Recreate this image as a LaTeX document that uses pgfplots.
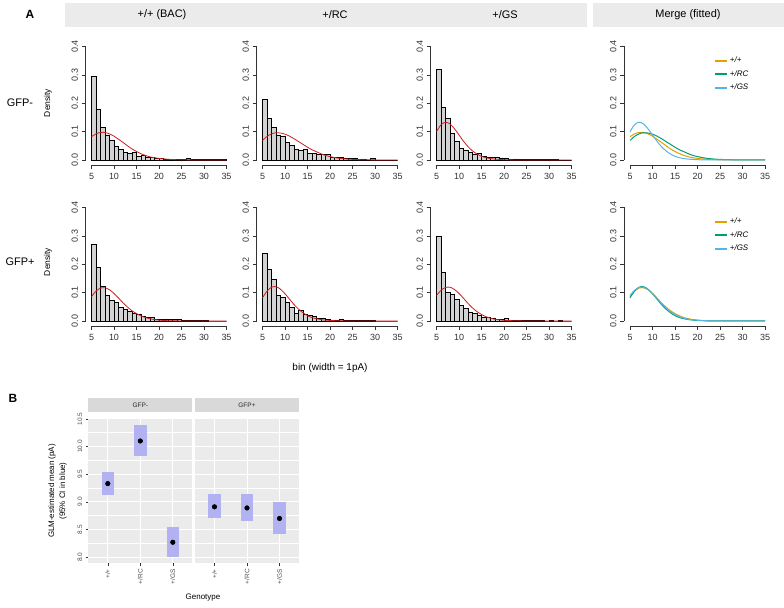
\documentclass[border=0pt]{standalone}
\usepackage{pgfplots}
\pgfplotsset{compat=1.18}
\usepackage{pgfplotstable}
\usepackage{fontspec}
\setmainfont{Liberation Sans}
\setsansfont{Liberation Sans}

\definecolor{histfill}{RGB}{211,211,211}
\definecolor{fitred}{RGB}{205,30,30}
\definecolor{cwt}{RGB}{230,159,0}
\definecolor{crc}{RGB}{0,158,115}
\definecolor{cgs}{RGB}{86,180,233}
\definecolor{stripA}{RGB}{235,235,235}
\definecolor{stripB}{RGB}{217,217,217}
\definecolor{panelB}{RGB}{235,235,235}
\definecolor{ciblue}{RGB}{178,178,242}

% histogram densities, bins [x, x+1)
\pgfplotstableread{
x  h1    h2    h3    h4    h5    h6
5  0.295 0.214 0.320 0.271 0.237 0.299
6  0.178 0.145 0.186 0.188 0.181 0.172
7  0.115 0.115 0.147 0.121 0.145 0.102
8  0.087 0.088 0.094 0.091 0.092 0.093
9  0.068 0.082 0.067 0.073 0.084 0.075
10 0.049 0.062 0.041 0.065 0.065 0.055
11 0.036 0.052 0.034 0.049 0.048 0.044
12 0.026 0.038 0.027 0.041 0.028 0.032
13 0.023 0.034 0.019 0.033 0.036 0.026
14 0.026 0.038 0.022 0.027 0.024 0.020
15 0.014 0.024 0.012 0.022 0.020 0.014
16 0.015 0.022 0.009 0.018 0.016 0.012
17 0.011 0.020 0.009 0.013 0.010 0.008
18 0.008 0.021 0.008 0.012 0.008 0.006
19 0.007 0.019 0.007 0.007 0.006 0.006
20 0.005 0.009 0.005 0.006 0.004 0.009
21 0.004 0.009 0.004 0.005 0.004 0.004
22 0.004 0.008 0.004 0.006 0.005 0.002
23 0.003 0.007 0.003 0.007 0.003 0.002
24 0.003 0.005 0.003 0.007 0.002 0.001
25 0.003 0.005 0.003 0.003 0.002 0.002
26 0.005 0.004 0.002 0.002 0.001 0.001
27 0.003 0.004 0.002 0.002 0.001 0.001
28 0.002 0.000 0.002 0.001 0.001 0.001
29 0.001 0.006 0.001 0.001 0.001 0.000
30 0.002 0.000 0.001 0.001 0.000 0.001
31 0.001 0.000 0.001 0.000 0.000 0.000
32 0.001 0.000 0.000 0.000 0.000 0.001
33 0.002 0.000 0.000 0.000 0.000 0.000
34 0.001 0.000 0.000 0.000 0.000 0.000
35 0.001 0.000 0.000 0.000 0.000 0.000
}\hist

% fitted densities
\pgfplotstableread{
x  c1     c2     c3     c4     c5     c6
5  0.082  0.069  0.100  0.086  0.082  0.090
6  0.092  0.083  0.124  0.105  0.105  0.108
7  0.097  0.092  0.133  0.116  0.119  0.118
8  0.097  0.096  0.127  0.117  0.121  0.119
9  0.092  0.095  0.110  0.110  0.112  0.111
10 0.084  0.091  0.088  0.097  0.096  0.097
11 0.073  0.084  0.066  0.081  0.077  0.080
12 0.062  0.075  0.047  0.064  0.058  0.062
13 0.050  0.065  0.032  0.049  0.042  0.046
14 0.039  0.055  0.021  0.036  0.029  0.033
15 0.030  0.045  0.013  0.026  0.019  0.023
16 0.022  0.036  0.008  0.018  0.012  0.015
17 0.016  0.029  0.005  0.012  0.008  0.010
18 0.011  0.022  0.003  0.008  0.005  0.006
19 0.008  0.016  0.002  0.005  0.003  0.004
20 0.0055 0.012  0.001  0.003  0.002  0.0025
22 0.0025 0.006  0.0003 0.001  0.0006 0.001
24 0.001  0.003  0.0001 0.0004 0.0002 0.0003
26 0.0005 0.0015 0.0    0.0001 0.0001 0.0001
28 0.0002 0.0007 0.0    0.0    0.0    0.0
30 0.0001 0.0003 0.0    0.0    0.0    0.0
32 0.0    0.0001 0.0    0.0    0.0    0.0
35 0.0    0.0    0.0    0.0    0.0    0.0
}\fits

% GLM estimates with 95% CI
\pgfplotstableread{
x mean lo hi
1 9.33 9.12 9.54
2 10.10 9.83 10.39
3 8.27 8.01 8.55
}\gfpminus
\pgfplotstableread{
x mean lo hi
1 8.91 8.70 9.14
2 8.89 8.66 9.15
3 8.70 8.42 8.99
}\gfpplus

\pgfplotsset{
  rbase/.style={
    scale only axis, width=135bp, height=113.5bp,
    xmin=5, xmax=35, ymin=0, ymax=0.4,
    axis lines=left, axis line style={-, line width=0.6bp, black!80},
    axis x line shift=5bp, axis y line shift=6bp,
    xtick={5,10,15,20,25,30,35}, ytick={0,0.1,0.2,0.3,0.4},
    tick align=outside, major tick length=4bp,
    tick style={black!80, line width=0.6bp},
    /pgf/number format/assume math mode=true,
    ticklabel style={font=\fontsize{9}{10}\selectfont, text=black!80},
    xticklabel style={yshift=-1bp},
    yticklabel style={rotate=90, anchor=south, /pgf/number format/.cd, fixed, fixed zerofill, precision=1},
    clip=false,
  },
  hbar/.style={ybar interval, fill=histfill, draw=black, line width=0.7bp},
  fit/.style={fitred, line width=0.8bp, smooth},
  merge/.style={
    rbase,
    legend style={draw=none, fill=none, at={(0.62,0.925)}, anchor=north west,
      font=\fontsize{8}{9}\selectfont\itshape, row sep=2.2bp, inner sep=0pt},
    legend cell align=left,
    legend image post style={line width=2bp},
    legend image code/.code={\draw plot coordinates {(0bp,0bp) (6bp,0bp) (12bp,0bp)};},
  },
  gpanel/.style={
    scale only axis, width=104bp, height=145bp,
    xmin=0.4, xmax=3.6, ymin=7.89, ymax=10.51,
    axis background/.style={fill=panelB},
    axis line style={draw=none},
    xtick={1,2,3}, xticklabels={+/+,+/RC,+/GS},
    ytick={8,8.5,9,9.5,10,10.5}, minor ytick={8.25,8.75,9.25,9.75,10.25},
    grid=both, major grid style={white, line width=1bp},
    minor grid style={white, line width=0.5bp},
    tick align=outside, xtick pos=left, ytick pos=left,
    major tick length=2.5bp, minor tick style={draw=none},
    tick style={black!80, line width=0.6bp},
    /pgf/number format/assume math mode=true,
    ticklabel style={font=\fontsize{6.5}{7}\selectfont, text=black!70},
    xticklabel style={rotate=90, anchor=east},
    yticklabel style={rotate=90, anchor=south, /pgf/number format/.cd, fixed, fixed zerofill, precision=1},
    clip=false,
  },
  ci/.style={only marks, mark=none, forget plot,
    error bars/.cd, y dir=both, y explicit, error mark=none,
    error bar style={line width=12.5bp, ciblue}},
}

\begin{document}
\begin{tikzpicture}
\begin{scope}[x=1bp, y=1bp]
\useasboundingbox (0,0) rectangle (784,608);

% ---------- panel A ----------
\fill[stripA] (65,581) rectangle (587,605);
\fill[stripA] (593,581) rectangle (784,605);
\node[font=\fontsize{12}{14}\selectfont\bfseries] at (30,594) {A};
\node[font=\fontsize{11}{13}\selectfont] at (162,593) {+/+ (BAC)};
\node[font=\fontsize{11}{13}\selectfont] at (335,593) {+/RC};
\node[font=\fontsize{11}{13}\selectfont] at (505,593) {+/GS};
\node[font=\fontsize{11}{13}\selectfont] at (688,593) {Merge (fitted)};
\node[font=\fontsize{11}{13}\selectfont] at (20,505) {GFP-};
\node[font=\fontsize{11}{13}\selectfont] at (20,346) {GFP+};
\node[font=\fontsize{8.5}{10}\selectfont, rotate=90] at (48,505) {Density};
\node[font=\fontsize{8.5}{10}\selectfont, rotate=90] at (48,346) {Density};
\node[font=\fontsize{10}{12}\selectfont] at (330,240) {bin (width = 1pA)};

% ---------- panel B labels ----------
\node[font=\fontsize{12}{14}\selectfont\bfseries] at (13,210) {B};
\fill[stripB] (88.3,195.7) rectangle (192.3,209.7);
\fill[stripB] (195,195.7) rectangle (299,209.7);
\node[font=\fontsize{6.5}{7}\selectfont, text=black!85] at (140.3,202.7) {GFP-};
\node[font=\fontsize{6.5}{7}\selectfont, text=black!85] at (247,202.7) {GFP+};
\node[font=\fontsize{8}{9}\selectfont, rotate=90] at (52,117) {GLM-estimated mean (pA)};
\node[font=\fontsize{8}{9}\selectfont, rotate=90] at (63,117) {(95\% CI in blue)};
\node[font=\fontsize{8}{9}\selectfont] at (203,10) {Genotype};
\end{scope}

% row GFP-
\begin{axis}[rbase, at={(91.5bp,448bp)}, anchor=south west]
  \addplot[hbar] table[x=x, y=h1] {\hist};
  \addplot[fit] table[x=x, y=c1] {\fits};
\end{axis}
\begin{axis}[rbase, at={(262.5bp,448bp)}, anchor=south west]
  \addplot[hbar] table[x=x, y=h2] {\hist};
  \addplot[fit] table[x=x, y=c2] {\fits};
\end{axis}
\begin{axis}[rbase, at={(436.5bp,448bp)}, anchor=south west]
  \addplot[hbar] table[x=x, y=h3] {\hist};
  \addplot[fit] table[x=x, y=c3] {\fits};
\end{axis}
\begin{axis}[merge, at={(630bp,448bp)}, anchor=south west]
  \addplot[cwt, line width=1bp, smooth] table[x=x, y=c1] {\fits};
  \addlegendentry{+/+}
  \addplot[crc, line width=1bp, smooth] table[x=x, y=c2] {\fits};
  \addlegendentry{+/RC}
  \addplot[cgs, line width=1bp, smooth] table[x=x, y=c3] {\fits};
  \addlegendentry{+/GS}
\end{axis}

% row GFP+
\begin{axis}[rbase, at={(91.5bp,287bp)}, anchor=south west]
  \addplot[hbar] table[x=x, y=h4] {\hist};
  \addplot[fit] table[x=x, y=c4] {\fits};
\end{axis}
\begin{axis}[rbase, at={(262.5bp,287bp)}, anchor=south west]
  \addplot[hbar] table[x=x, y=h5] {\hist};
  \addplot[fit] table[x=x, y=c5] {\fits};
\end{axis}
\begin{axis}[rbase, at={(436.5bp,287bp)}, anchor=south west]
  \addplot[hbar] table[x=x, y=h6] {\hist};
  \addplot[fit] table[x=x, y=c6] {\fits};
\end{axis}
\begin{axis}[merge, at={(630bp,287bp)}, anchor=south west]
  \addplot[cwt, line width=1bp, smooth] table[x=x, y=c4] {\fits};
  \addlegendentry{+/+}
  \addplot[crc, line width=1bp, smooth] table[x=x, y=c5] {\fits};
  \addlegendentry{+/RC}
  \addplot[cgs, line width=1bp, smooth] table[x=x, y=c6] {\fits};
  \addlegendentry{+/GS}
\end{axis}

% ---------- panel B ----------
\begin{axis}[gpanel, at={(88.3bp,44.7bp)}, anchor=south west]
  \addplot[ci] table[x=x, y=mean,
    y error plus expr=\thisrow{hi}-\thisrow{mean},
    y error minus expr=\thisrow{mean}-\thisrow{lo}] {\gfpminus};
  \addplot[only marks, mark=*, mark size=2.3bp, black] table[x=x, y=mean] {\gfpminus};
\end{axis}
\begin{axis}[gpanel, at={(195bp,44.7bp)}, anchor=south west,
    yticklabels={}, ytick style={draw=none}]
  \addplot[ci] table[x=x, y=mean,
    y error plus expr=\thisrow{hi}-\thisrow{mean},
    y error minus expr=\thisrow{mean}-\thisrow{lo}] {\gfpplus};
  \addplot[only marks, mark=*, mark size=2.3bp, black] table[x=x, y=mean] {\gfpplus};
\end{axis}
\end{tikzpicture}
\end{document}
